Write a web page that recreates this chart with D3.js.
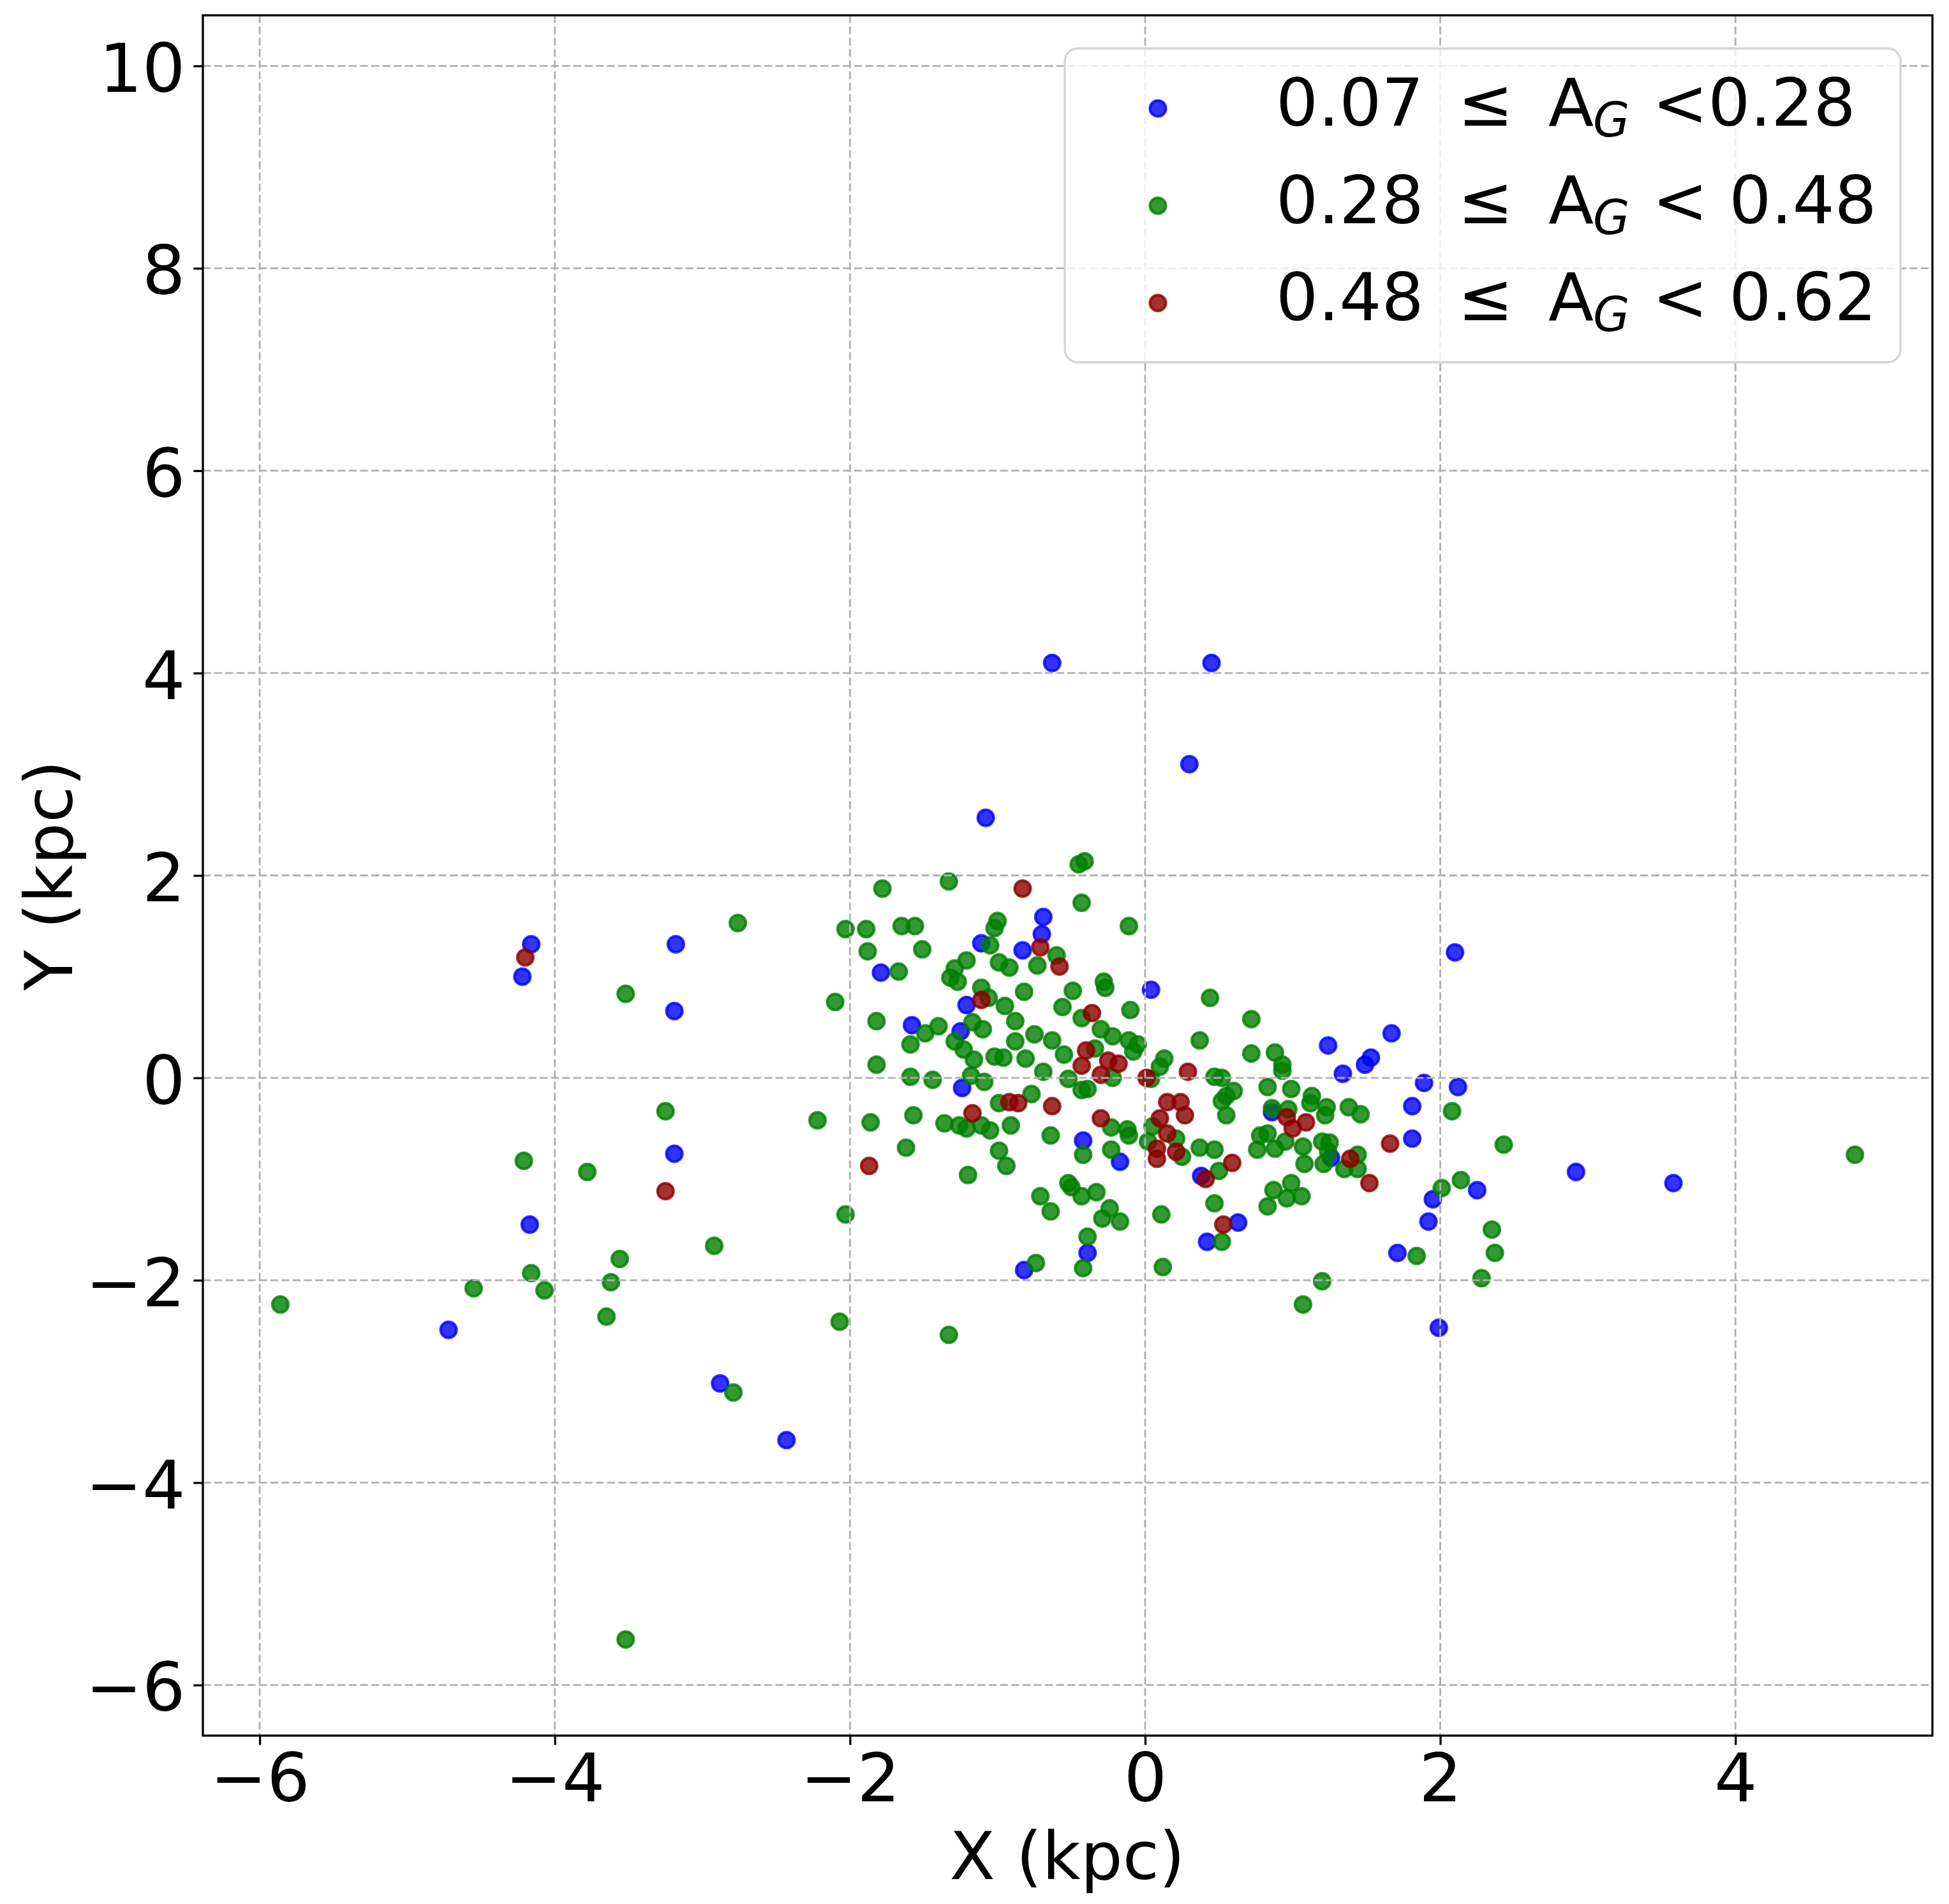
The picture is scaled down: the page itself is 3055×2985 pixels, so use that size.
<!DOCTYPE html>
<html>
<head>
<meta charset="utf-8">
<script src="https://cdn.jsdelivr.net/npm/d3@7"></script>
<style>
  body { margin: 0; background: #fff; }
  text { font-family: "DejaVu Sans", sans-serif; }
</style>
</head>
<body>
<div id="chart"></div>
<script>
// 0.07 <= A_G < 0.28
var lowPts = [
  [-0.63,4.10],[0.45,4.10],[0.30,3.10],[-1.08,2.57],
  [-0.69,1.59],[-0.70,1.42],[-1.11,1.33],[-0.83,1.26],[-1.79,1.04],[-1.21,0.72],[0.04,0.87],
  [-1.58,0.52],[-1.25,0.46],[-1.24,-0.10],[-0.42,-0.62],
  [2.10,1.24],[1.24,0.32],[1.67,0.44],[1.53,0.20],[1.49,0.13],[1.34,0.04],[1.89,-0.05],
  [2.12,-0.09],[1.81,-0.28],[1.81,-0.60],[0.86,-0.34],
  [-0.17,-0.83],[-0.39,-1.73],[-0.82,-1.90],
  [0.38,-0.97],[0.63,-1.43],[0.42,-1.62],[1.26,-0.79],[1.95,-1.20],[2.25,-1.11],[1.92,-1.42],
  [1.71,-1.73],[1.99,-2.47],
  [-4.16,1.32],[-4.22,1.00],[-3.18,1.32],[-3.19,0.66],[-3.19,-0.75],[-4.17,-1.45],[-4.72,-2.49],
  [-2.88,-3.02],[-2.43,-3.58],
  [2.92,-0.93],[3.58,-1.04]
];
// 0.28 <= A_G < 0.48
var midPts = [
  [-0.45,2.11],[-0.41,2.14],[-1.78,1.87],[-1.33,1.94],[-0.43,1.73],[-2.03,1.47],[-1.89,1.47],
  [-1.65,1.50],[-1.56,1.50],[-0.11,1.50],[-1.00,1.55],[-1.02,1.48],[-1.05,1.31],[-0.60,1.21],
  [-0.73,1.11],[-0.99,1.14],[-0.92,1.09],[-1.88,1.25],[-1.51,1.27],[-1.21,1.16],[-1.29,1.08],
  [-1.32,0.99],[-1.27,0.95],[-1.67,1.05],[-2.10,0.75],[-1.11,0.89],[-1.06,0.79],[-0.95,0.71],
  [-0.82,0.85],[-0.49,0.86],[-0.28,0.95],[-0.27,0.89],[-0.56,0.70],[-0.10,0.67],[-0.43,0.59],
  [-1.82,0.56],[-1.49,0.44],[-1.40,0.51],[-1.17,0.55],[-1.10,0.48],[-0.88,0.56],[-1.59,0.33],
  [-1.29,0.36],[-1.23,0.28],[-1.16,0.18],[-0.88,0.36],[-0.75,0.43],[-0.63,0.37],[-0.30,0.48],
  [-0.22,0.41],[-0.11,0.37],[-0.05,0.33],[-0.08,0.26],[-0.34,0.29],[-0.22,0.00],[-0.55,0.23],
  [-1.02,0.21],[-0.96,0.20],[-0.81,0.19],[-0.69,0.06],[-1.82,0.13],[-1.59,0.01],[-1.44,-0.02],
  [-1.18,0.02],[-1.09,-0.04],[-0.52,-0.01],[-0.43,-0.12],[-0.39,-0.11],[-0.77,-0.16],[-0.99,-0.25],
  [-2.22,-0.42],[-1.86,-0.44],[-1.57,-0.37],[-1.36,-0.45],[-1.26,-0.47],[-1.21,-0.50],[-1.11,-0.47],
  [-1.05,-0.52],[-0.91,-0.47],[-0.64,-0.57],[-0.23,-0.49],[-0.12,-0.51],[-0.11,-0.57],
  [-1.62,-0.69],[-0.99,-0.72],[-0.94,-0.87],[-1.20,-0.96],[-0.42,-0.76],[-0.23,-0.71],[-0.71,-1.17],
  [-0.64,-1.32],[-0.52,-1.04],[-0.50,-1.08],[-0.43,-1.17],[-0.33,-1.13],[-0.24,-1.29],[-0.29,-1.39],
  [-0.17,-1.42],[-0.39,-1.57],[-0.42,-1.88],[-0.74,-1.83],[-2.03,-1.35],[-2.07,-2.41],[-1.33,-2.54],
  [0.44,0.79],[0.72,0.58],[0.37,0.37],[0.72,0.24],[0.88,0.25],[0.93,0.13],[0.93,0.07],[2.08,-0.33],
  [0.13,0.19],[0.10,0.11],[0.04,-0.01],[0.47,0.01],[0.52,0.00],[0.60,-0.13],[0.55,-0.18],[0.52,-0.23],
  [0.55,-0.37],[0.83,-0.09],[0.99,-0.11],[1.13,-0.18],[1.12,-0.25],[1.23,-0.29],[1.22,-0.37],
  [1.38,-0.29],[1.46,-0.36],[0.05,-0.48],[0.21,-0.60],[0.02,-0.63],[0.86,-0.30],[0.97,-0.31],
  [0.78,-0.57],[0.83,-0.55],[0.95,-0.63],[1.07,-0.68],[1.20,-0.63],[1.25,-0.64],[2.43,-0.66],
  [0.37,-0.69],[0.47,-0.71],[0.25,-0.78],[0.50,-0.92],[0.47,-1.24],[0.11,-1.35],[0.52,-1.62],
  [0.12,-1.87],[0.76,-0.71],[0.88,-0.70],[1.08,-0.85],[1.24,-0.73],[1.21,-0.85],[1.44,-0.76],
  [1.35,-0.90],[1.44,-0.90],[0.87,-1.11],[0.99,-1.04],[0.96,-1.19],[1.06,-1.17],[0.83,-1.27],
  [2.01,-1.09],[2.14,-1.01],[1.84,-1.76],[2.35,-1.50],[2.37,-1.73],[2.28,-1.98],[1.20,-2.01],
  [1.07,-2.24],
  [-2.76,1.53],[-3.52,0.83],[-3.25,-0.33],[-4.21,-0.82],[-3.78,-0.93],[-2.92,-1.66],[-3.56,-1.79],
  [-4.16,-1.93],[-3.62,-2.02],[-4.55,-2.08],[-4.07,-2.10],[-5.86,-2.24],[-3.65,-2.36],[-2.79,-3.11],
  [-3.52,-5.55],[4.81,-0.76]
];
// 0.48 <= A_G < 0.62
var highPts = [
  [-0.83,1.87],[-0.71,1.29],[-0.58,1.10],[-1.11,0.77],[-0.36,0.64],[-0.40,0.27],[-0.43,0.12],
  [-0.25,0.17],[-0.18,0.14],[-0.30,0.03],[0.01,0.00],[-0.92,-0.24],[-0.86,-0.25],[-0.63,-0.28],
  [-1.17,-0.35],[-0.30,-0.40],
  [0.29,0.06],[0.15,-0.24],[0.24,-0.24],[0.10,-0.40],[0.27,-0.37],[0.15,-0.55],[0.96,-0.39],
  [1.00,-0.50],[1.09,-0.44],[1.66,-0.65],
  [-1.87,-0.87],[0.08,-0.70],[0.08,-0.80],[0.21,-0.73],[0.41,-1.00],[0.59,-0.84],[0.53,-1.45],
  [1.39,-0.80],[1.52,-1.04],
  [-4.20,1.19],[-3.25,-1.12]
];

var groupColors = ['#0000ff', '#008000', '#8b0000'];
var legendLo = ['0.07', '0.28', '0.48'];
var legendHi = ['<0.28', '< 0.48', '< 0.62'];
var xTicks = [-6, -4, -2, 0, 2, 4];
var yTicks = [-6, -4, -2, 0, 2, 4, 6, 8, 10];
var xLimits = [-6.385, 5.335];
var yLimits = [-6.5, 10.5];

(function drawChart() {
    var W = 3055, H = 2985;
    var axL = 318, axR = 3029, axT = 24, axB = 2721;

    var svg = d3.select('#chart')
        .append('svg')
        .attr('width', W)
        .attr('height', H)
        .style('background', '#fff');

    var x = d3.scaleLinear().domain(xLimits).range([axL, axR]);
    var y = d3.scaleLinear().domain(yLimits).range([axB, axT]);

    // points, blue first then green then red
    var groups = [lowPts, midPts, highPts];
    groups.forEach(function(pts, i) {
        svg.append('g')
            .selectAll('circle')
            .data(pts)
            .enter()
            .append('circle')
            .attr('cx', function(d) { return x(d[0]); })
            .attr('cy', function(d) { return y(d[1]); })
            .attr('r', 12.5)
            .attr('fill', groupColors[i])
            .attr('fill-opacity', 0.8)
            .attr('stroke', groupColors[i])
            .attr('stroke-opacity', 0.8)
            .attr('stroke-width', 4.2);
    });

    // grid sits above the points, like matplotlib
    var grid = svg.append('g')
        .attr('stroke', '#b0b0b0')
        .attr('stroke-width', 2.8)
        .attr('stroke-dasharray', '12.3,5.3');

    grid.selectAll('.vx')
        .data(xTicks)
        .enter()
        .append('line')
        .attr('x1', function(d) { return x(d); })
        .attr('x2', function(d) { return x(d); })
        .attr('y1', axT)
        .attr('y2', axB);

    grid.selectAll('.hy')
        .data(yTicks)
        .enter()
        .append('line')
        .attr('y1', function(d) { return y(d); })
        .attr('y2', function(d) { return y(d); })
        .attr('x1', axL)
        .attr('x2', axR);

    // axes
    var xAxis = svg.append('g')
        .attr('transform', 'translate(0,' + axB + ')')
        .call(d3.axisBottom(x).tickValues(xTicks).tickSize(14.6).tickPadding(13.5));

    var yAxis = svg.append('g')
        .attr('transform', 'translate(' + axL + ',0)')
        .call(d3.axisLeft(y).tickValues(yTicks).tickSize(14.6).tickPadding(13));

    [xAxis, yAxis].forEach(function(a) {
        a.select('.domain').remove();
        a.selectAll('.tick line').attr('stroke', '#000').attr('stroke-width', 3.3);
        a.selectAll('.tick text')
            .attr('fill', '#000')
            .style('font-family', '"DejaVu Sans", sans-serif')
            .style('font-size', '106px');
    });
    yAxis.selectAll('.tick text').attr('dy', '0.38em');

    svg.append('rect')
        .attr('x', axL)
        .attr('y', axT)
        .attr('width', axR - axL)
        .attr('height', axB - axT)
        .attr('fill', 'none')
        .attr('stroke', '#000')
        .attr('stroke-width', 3.3);

    svg.append('text')
        .text('X (kpc)')
        .attr('x', 1673)
        .attr('y', 2946)
        .attr('text-anchor', 'middle')
        .style('font-size', '104px');

    svg.append('text')
        .text('Y (kpc)')
        .attr('transform', 'translate(113,' + (axT + axB) / 2 + ') rotate(-90)')
        .attr('text-anchor', 'middle')
        .style('font-size', '104px');

    // legend
    var legend = svg.append('g');

    legend.append('rect')
        .attr('x', 1669)
        .attr('y', 76)
        .attr('width', 1310)
        .attr('height', 492)
        .attr('rx', 20)
        .attr('ry', 20)
        .attr('fill', '#fff')
        .attr('fill-opacity', 0.8)
        .attr('stroke', '#d4d4d4')
        .attr('stroke-width', 3.3);

    legendLo.forEach(function(lo, i) {
        var base = 197 + 152.5 * i;
        legend.append('circle')
            .attr('cx', 1815)
            .attr('cy', base - 27)
            .attr('r', 12.5)
            .attr('fill', groupColors[i])
            .attr('fill-opacity', 0.8)
            .attr('stroke', groupColors[i])
            .attr('stroke-opacity', 0.8)
            .attr('stroke-width', 4.2);

        var row = legend.append('g').style('font-size', '104px');
        row.append('text').attr('x', 2000).attr('y', base).text(lo);
        row.append('text').attr('x', 2285).attr('y', base).text('\u2264');
        row.append('text').attr('x', 2427).attr('y', base).text('A');
        row.append('text')
            .attr('x', 2497)
            .attr('y', base + 17)
            .style('font-size', '74px')
            .style('font-style', 'italic')
            .text('G');
        row.append('text').attr('x', 2590).attr('y', base).text(legendHi[i]);
    });
})();
</script>
</body>
</html>
